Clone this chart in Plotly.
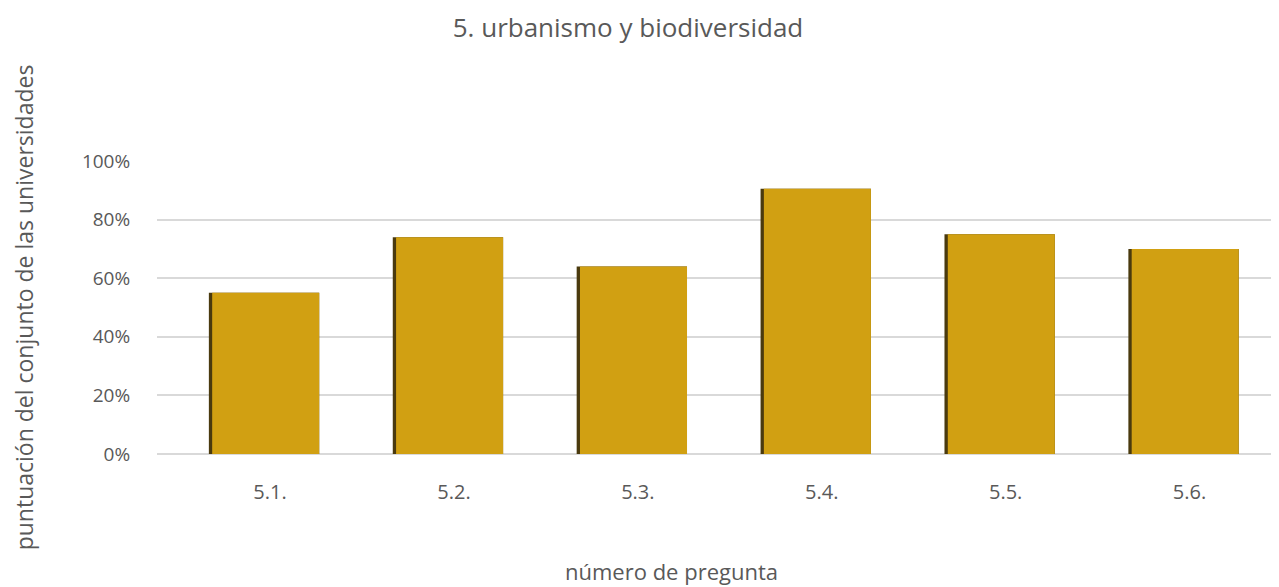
import plotly.graph_objects as go

categories = ["5.1.", "5.2.", "5.3.", "5.4.", "5.5.", "5.6."]
values = [0.55, 0.74, 0.64, 0.905, 0.75, 0.70]
y_ticks = [0, 0.2, 0.4, 0.6, 0.8, 1.0]
y_tick_labels = ["0%", "20%", "40%", "60%", "80%", "100%"]

gold = "#D1A012"
shade = "#4A3A0E"
font_color = "#595959"
font_family = "Open Sans, Lato, sans-serif"

xs = list(range(len(categories)))

W, H = 1271, 579  # page body adds an 8px margin
ML, MT, MB = 149, 153, 133
plot_h = H - MT - MB

fig = go.Figure()
fig.add_trace(go.Bar(x=xs, y=values, width=0.6, offset=-0.3,
                     marker=dict(color=shade, line=dict(width=0)),
                     hoverinfo="skip", showlegend=False))
fig.add_trace(go.Bar(x=xs, y=values, width=0.582, offset=-0.282,
                     marker=dict(color=gold, line=dict(width=0)),
                     showlegend=False))

fig.add_annotation(text="número de pregunta", xref="paper", yref="paper",
                   x=(663 - ML) / (W - ML), y=-(563 - (H - MB)) / plot_h,
                   xanchor="center", yanchor="middle", showarrow=False,
                   font=dict(size=22, color=font_color, family=font_family))

fig.update_layout(
    barmode="overlay",
    width=W, height=H,
    paper_bgcolor="white", plot_bgcolor="white",
    margin=dict(l=ML, r=0, t=MT, b=MB, autoexpand=False),
    font=dict(family=font_family, color=font_color, size=18),
    title=dict(text="5. urbanismo y biodiversidad", xref="container", x=620/W,
               xanchor="center", yref="container", y=1 - 20/H, yanchor="middle",
               font=dict(size=26, color=font_color, family=font_family)),
    xaxis=dict(
        tickmode="array", tickvals=xs, ticktext=categories,
        range=[-0.582, 5.519], automargin=False,
        showgrid=False, zeroline=False, showline=False,
        ticks="outside", ticklen=20, tickcolor="rgba(0,0,0,0)",
        ticklabelshift=6,
        tickfont=dict(size=20, color=font_color),
    ),
    yaxis=dict(
        tickmode="array", tickvals=y_ticks, ticktext=y_tick_labels,
        range=[0, 1.0], automargin=False,
        showgrid=True, gridcolor="#D9D9D9", gridwidth=1.5,
        zeroline=True, zerolinecolor="#D9D9D9", zerolinewidth=1.5,
        showline=False,
        ticks="outside", ticklen=22, tickcolor="rgba(0,0,0,0)",
        tickfont=dict(size=19, color=font_color),
        title=dict(text="puntuación del conjunto de las universidades", standoff=66,
                   font=dict(size=23, color=font_color)),
    ),
)

fig.write_html("out.html")
